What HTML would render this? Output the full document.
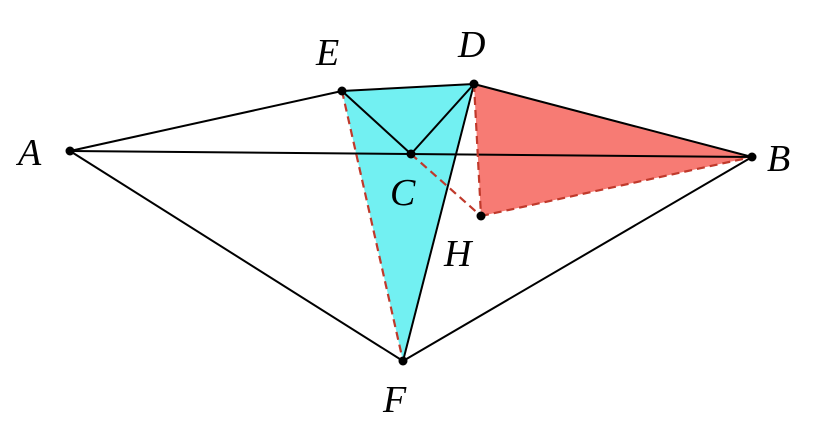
<!DOCTYPE html>
<html><head><style>body{margin:0;background:#fff}svg{display:block}</style></head><body>
<svg width="814" height="446" viewBox="0 0 814 446" xmlns="http://www.w3.org/2000/svg">
<rect width="814" height="446" fill="#fff"/>
<polygon points="342,91 474,84 403,361" fill="#72f0f2"/>
<polygon points="474,84 752,157 481,216" fill="#f77b74"/>
<g stroke="#000" stroke-width="2" fill="none">
<line x1="70" y1="151" x2="342" y2="91"/>
<line x1="342" y1="91" x2="474" y2="84"/>
<line x1="474" y1="84" x2="752" y2="157"/>
<line x1="70" y1="151" x2="752" y2="157"/>
<line x1="70" y1="151" x2="403" y2="361"/>
<line x1="403" y1="361" x2="752" y2="157"/>
<line x1="342" y1="91" x2="411" y2="154"/>
<line x1="474" y1="84" x2="411" y2="154"/>
<line x1="474" y1="84" x2="403" y2="361"/>
</g>
<g stroke="#c0392b" stroke-width="2.2" stroke-dasharray="8,5" fill="none">
<line x1="342" y1="91" x2="403" y2="361"/>
<line x1="474" y1="84" x2="481" y2="216"/>
<line x1="481" y1="216" x2="752" y2="157"/>
<line x1="411" y1="154" x2="481" y2="216"/>
</g>
<g fill="#000">
<circle cx="70" cy="151" r="4.5"/><circle cx="342" cy="91" r="4.5"/><circle cx="474" cy="84" r="4.5"/>
<circle cx="411" cy="154" r="4.5"/><circle cx="752" cy="157" r="4.5"/><circle cx="481" cy="216" r="4.5"/>
<circle cx="403" cy="361" r="4.5"/>
</g>
<g font-family="Liberation Serif, serif" font-style="italic" font-size="38" fill="#000">
<text x="18" y="165">A</text>
<text x="316" y="65">E</text>
<text x="458" y="57">D</text>
<text x="390" y="205">C</text>
<text x="767" y="171">B</text>
<text x="444" y="266">H</text>
<text x="383" y="412">F</text>
</g>
</svg>
</body></html>
